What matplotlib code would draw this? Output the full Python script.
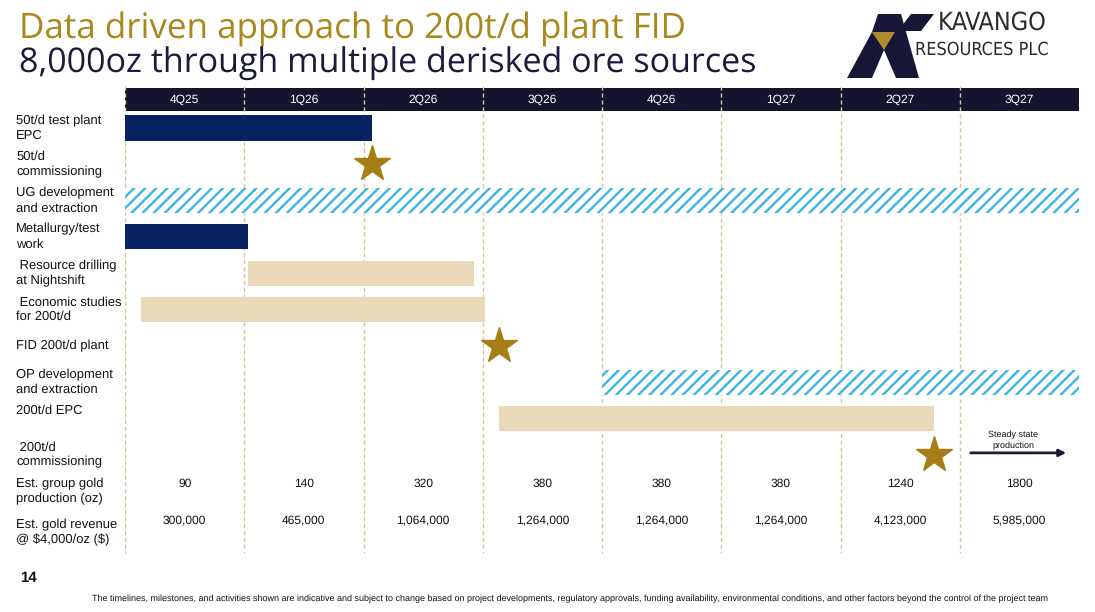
import matplotlib
matplotlib.use("Agg")
import matplotlib.pyplot as plt
from matplotlib.patches import Polygon

# ---------------- data ----------------
quarters = ["4Q25", "1Q26", "2Q26", "3Q26", "4Q26", "1Q27", "2Q27", "3Q27"]
row_labels = ["50t/d test plant\nEPC", "50t/d\ncommissioning", "UG development\nand extraction",
              "Metallurgy/test\nwork", " Resource drilling\nat Nightshift", " Economic studies\nfor 200t/d",
              "FID 200t/d plant", "OP development\nand extraction", "200t/d EPC",
              " 200t/d\ncommissioning", "Est. group gold\nproduction (oz)",
              "Est. gold revenue\n@ \\$4,000/oz (\\$)"]
label_shift = [0, 0, 0, 0, 0, 0, 0, 0, -0.23, 0, 0, 0.14]

# bars: row, start (quarters from 4Q25 start), end, style
bar_rows   = [0, 2, 3, 4, 5, 7, 8]
bar_start  = [0.0, 0.0, 0.0, 1.03, 0.13, 4.0, 3.14]
bar_end    = [2.07, 8.0, 1.03, 2.93, 3.02, 8.0, 6.78]
bar_style  = ["navy", "hatch", "navy", "beige", "beige", "hatch", "beige"]

# milestones (stars)
star_rows = [1, 6, 9]
star_x    = [2.07, 3.14, 6.78]

production = ["90", "140", "320", "380", "380", "380", "1240", "1800"]
revenue = ["300,000", "465,000", "1,064,000", "1,264,000", "1,264,000", "1,264,000",
           "4,123,000", "5,985,000"]

# ---------------- style ----------------
NAVY = "#082262"
HEADER = "#14142f"
BEIGE = "#ead9b8"
CYAN = "#3cb4e4"
GOLD = "#a57f16"
GRID = "#d8c59c"
TITLE_GOLD = "#a8881a"
DARK = "#1b1b3a"

plt.rcParams['font.family'] = ['Liberation Sans', 'DejaVu Sans']
plt.rcParams['hatch.linewidth'] = 1.7
plt.rcParams['text.hinting_factor'] = 1
plt.rcParams['text.hinting'] = 'no_hinting'

W, H = 1095, 612
fig = plt.figure(figsize=(W / 100, H / 100), dpi=100)
fig.patch.set_facecolor("white")

x0, x1 = 125, 1079
ax = fig.add_axes([x0 / W, 0, (x1 - x0) / W, 1])
ax.set_xlim(0, 8)
sp = 36.3
ax.set_ylim(484 / sp, -128 / sp)
ax.axis("off")
pxq = (x1 - x0) / 8.0


def px2q(px):
    return (px - x0) / pxq


# header bar
ax.barh(-0.785, 8, left=0, height=0.634, color=HEADER, zorder=1)
for i, q in enumerate(quarters):
    ax.text(i + 0.5, -0.785, q, color="white", fontsize=8.3, ha="center", va="center", zorder=5)

# dashed vertical grid lines
for i in range(8):
    ax.plot([i, i], [-1.157, 11.71], color=GRID, lw=1.0, ls=(0, (3, 2)), zorder=2)

# bars
for r, s, e, st in zip(bar_rows, bar_start, bar_end, bar_style):
    if st == "navy":
        ax.barh(r, e - s, left=s, height=0.69, color=NAVY, lw=0, zorder=3)
    elif st == "beige":
        ax.barh(r, e - s, left=s, height=0.69, color=BEIGE, lw=0, zorder=3)
    else:
        ax.barh(r, e - s, left=s, height=0.69, facecolor="white", edgecolor=CYAN,
                hatch="///", lw=0, zorder=3)

# stars
ax.plot(star_x, star_rows, ls="none", marker="*", markersize=27, color=GOLD, mec=GOLD, zorder=4)

# steady state arrow
ax.annotate("", xy=(px2q(1069), 8.95), xytext=(px2q(968), 8.95),
            arrowprops=dict(arrowstyle="-|>", color=DARK, lw=2.0, mutation_scale=10), zorder=4)
ax.text(px2q(1013), 8.6, "Steady state\nproduction", fontsize=6.6, ha="center", va="center",
        color="#111111", linespacing=1.3)

# row labels
for i, lab in enumerate(row_labels):
    ax.text(px2q(16), i + label_shift[i], lab, fontsize=9.4, ha="left", va="center",
            color="#111111", linespacing=1.3, clip_on=False)

# values
for i in range(8):
    ax.text(i + 0.5, 10 - 0.19, production[i], fontsize=8.6, ha="center", va="center", color="#111111")
    ax.text(i + 0.5, 11 - 0.19, revenue[i], fontsize=8.6, ha="center", va="center", color="#111111")

# titles
fig.text(19 / W, 1 - 29 / H, "Data driven approach to 200t/d plant FID", fontsize=25.4,
         family=["Open Sans", "DejaVu Sans"], color=TITLE_GOLD, va="center", ha="left")
fig.text(19 / W, 1 - 64 / H, "8,000oz through multiple derisked ore sources", fontsize=24.7,
         family=["Open Sans", "DejaVu Sans"], color=DARK, va="center", ha="left")

# page number and footnote
fig.text(20 / W, 1 - 578 / H, "14", fontsize=11, fontweight="bold", color="#111111", va="center")
fig.text(570 / W, 1 - 599 / H,
         "The timelines, milestones, and activities shown are indicative and subject to change based on "
         "project developments, regulatory approvals, funding availability, environmental conditions, "
         "and other factors beyond the control of the project team",
         fontsize=6.75, ha="center", va="center", color="#111111")

# logo
lg = fig.add_axes([0, 0, 1, 1])
lg.set_xlim(0, W)
lg.set_ylim(H, 0)
lg.axis("off")
lg.patch.set_alpha(0)
logo_navy = "#161637"
lg.add_patch(Polygon([(878, 14), (901, 14), (919, 78), (896, 78), (884, 50), (872, 78), (847, 78),
                      (872, 32)], closed=True, color=logo_navy, lw=0))
lg.add_patch(Polygon([(872, 32), (895, 32), (884, 50)], closed=True, color="#b08a2e", lw=0))
lg.add_patch(Polygon([(911, 14), (934, 14), (921, 31), (898, 31)], closed=True, color=logo_navy, lw=0))
fig.text(938 / W, 1 - 23 / H, "KAVANGO", fontsize=18, fontstretch="condensed",
         family=["DejaVu Sans"], color="#2b2b2b", va="center", ha="left")
fig.text(915 / W, 1 - 50 / H, "RESOURCES PLC", fontsize=13.2, fontstretch="condensed",
         family=["DejaVu Sans"], color="#2b2b2b", va="center", ha="left")

fig.savefig("out.png", dpi=100, facecolor="white")
